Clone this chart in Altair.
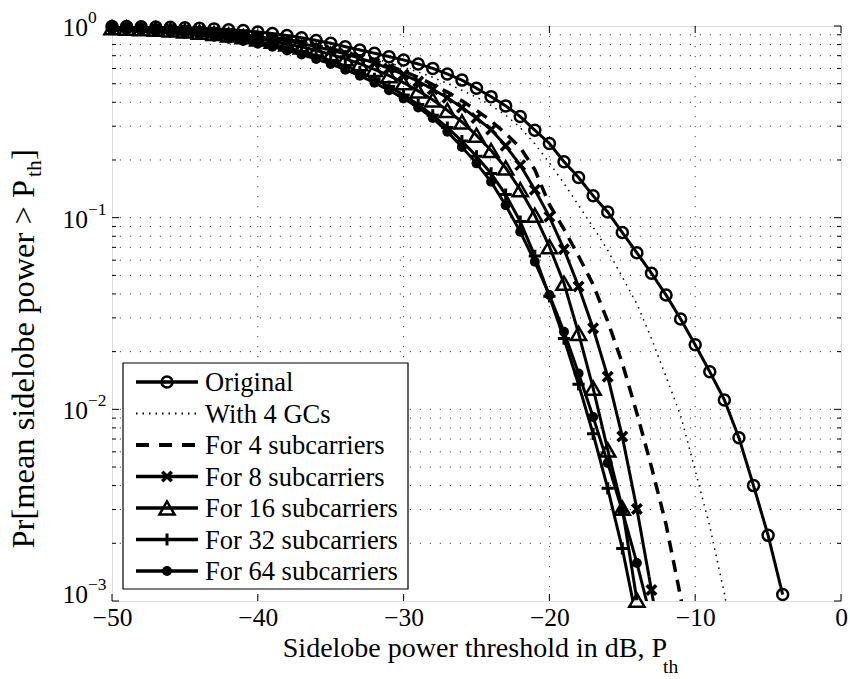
import altair as alt
import pandas as pd

# ---------------- data ----------------
x_start = -50
original = [0.995, 0.993, 0.991, 0.989, 0.984, 0.979, 0.973, 0.966, 0.957, 0.946,
            0.931, 0.914, 0.893, 0.869, 0.841, 0.813, 0.780, 0.750, 0.721, 0.692,
            0.665, 0.634, 0.601, 0.562, 0.522, 0.473, 0.428, 0.383, 0.337, 0.286,
            0.244, 0.196, 0.162, 0.130, 0.107, 0.0836, 0.0656, 0.0513, 0.0395, 0.0296,
            0.0217, 0.0157, 0.0112, 0.0071, 0.0040, 0.0022, 0.00108]
gc4 = [0.993, 0.991, 0.986, 0.982, 0.975, 0.968, 0.959, 0.948, 0.935, 0.920,
       0.902, 0.881, 0.857, 0.830, 0.802, 0.773, 0.741, 0.710, 0.676, 0.643,
       0.610, 0.575, 0.540, 0.501, 0.462, 0.425, 0.385, 0.343, 0.295, 0.243,
       0.193, 0.151, 0.116, 0.0891, 0.0676, 0.0490, 0.0355, 0.0234, 0.0148, 0.0093,
       0.0048, 0.00245, 0.0011, 0.0004]
sub4 = [0.991, 0.989, 0.984, 0.979, 0.973, 0.964, 0.955, 0.942, 0.929, 0.912,
        0.893, 0.873, 0.849, 0.822, 0.792, 0.762, 0.730, 0.695, 0.659, 0.621,
        0.581, 0.540, 0.495, 0.452, 0.407, 0.363, 0.320, 0.275, 0.232, 0.178,
        0.117, 0.0871, 0.0631, 0.0447, 0.0288, 0.0174, 0.00955, 0.00501, 0.00251, 0.00105,
        0.0004]
sub8 = [0.986, 0.982, 0.977, 0.971, 0.964, 0.955, 0.944, 0.931, 0.916, 0.900,
        0.881, 0.859, 0.836, 0.809, 0.780, 0.748, 0.715, 0.679, 0.641, 0.601,
        0.558, 0.514, 0.468, 0.422, 0.376, 0.331, 0.288, 0.237, 0.188, 0.140,
        0.101, 0.0684, 0.0437, 0.0265, 0.0148, 0.00721, 0.00302, 0.00114, 0.0004]
sub16 = [0.979, 0.975, 0.968, 0.962, 0.953, 0.942, 0.929, 0.914, 0.897, 0.879,
         0.857, 0.834, 0.807, 0.778, 0.746, 0.711, 0.675, 0.635, 0.594, 0.551,
         0.506, 0.459, 0.412, 0.363, 0.316, 0.269, 0.224, 0.182, 0.140, 0.103,
         0.0706, 0.0455, 0.0249, 0.0129, 0.00614, 0.00305, 0.00101]
sub32 = [0.973, 0.966, 0.959, 0.951, 0.940, 0.927, 0.912, 0.895, 0.875, 0.853,
         0.828, 0.800, 0.769, 0.736, 0.700, 0.661, 0.619, 0.575, 0.530, 0.483,
         0.437, 0.389, 0.342, 0.295, 0.251, 0.209, 0.170, 0.132, 0.0955, 0.0631,
         0.0389, 0.0234, 0.0135, 0.00745, 0.00387, 0.00188, 0.00079]
sub64 = [0.959, 0.953, 0.944, 0.935, 0.925, 0.912, 0.897, 0.879, 0.859, 0.836,
         0.809, 0.780, 0.746, 0.711, 0.673, 0.634, 0.592, 0.550, 0.506, 0.462,
         0.419, 0.376, 0.331, 0.281, 0.234, 0.192, 0.154, 0.116, 0.0845, 0.0589,
         0.0395, 0.0254, 0.0154, 0.00912, 0.00525, 0.00295, 0.00158, 0.00079]

series_names = ["Original", "With 4 GCs", "For 4 subcarriers", "For 8 subcarriers",
                "For 16 subcarriers", "For 32 subcarriers", "For 64 subcarriers"]
series_values = [original, gc4, sub4, sub8, sub16, sub32, sub64]

x_ticks = [-50, -40, -30, -20, -10, 0]
y_decades = [1.0, 0.1, 0.01, 0.001]
y_exponents = ["0", "\u22121", "\u22122", "\u22123"]
y_minor = [m * d for d in [0.001, 0.01, 0.1] for m in range(2, 10)]
x_title = "Sidelobe power threshold in dB, P"
y_title = "Pr[mean sidelobe power > P"
sub_text = "th"

# ---------------- layout ----------------
W, H = 729, 575
FONT = "Liberation Serif"
xs = alt.Scale(domain=[-50, 0], nice=False, zero=False)
ys = alt.Scale(type="log", domain=[0.001, 1], nice=False)
X_AXIS = alt.Axis(values=x_ticks, title=None, grid=False, ticks=False, domain=False,
                  labelFont=FONT, labelFontSize=25.5, labelColor="black", labelPadding=4,
                  format="d", labelFlush=False)


def X(field):
    return alt.X(field, scale=xs, axis=X_AXIS)


def Y(field):
    return alt.Y(field, scale=ys, axis=None)


styles = [
    dict(dash=[1, 0], width=3, shape="circle", filled=False, size=121, sw=2.5),
    dict(dash=[1.5, 5], width=1.5, shape=None),
    dict(dash=[12, 8], width=3.5, shape=None),
    dict(dash=[1, 0], width=3, shape="M-1,-1L1,1M1,-1L-1,1", filled=False, size=90, sw=3.5),
    dict(dash=[1, 0], width=3, shape="triangle-up", filled=False, size=230, sw=2.5),
    dict(dash=[1, 0], width=3, shape="M-1,0L1,0M0,-1L0,1", filled=False, size=150, sw=3),
    dict(dash=[1, 0], width=3, shape="circle", filled=True, size=100, sw=1),
]

rows = []
for name, vals in zip(series_names, series_values):
    for i, v in enumerate(vals):
        rows.append({"series": name, "x": x_start + i, "p": v})
df = pd.DataFrame(rows)

layers = []

# grid
xgrid = pd.DataFrame({"v": x_ticks[1:-1]})
ygrid = pd.DataFrame({"v": y_minor + y_decades[1:-1]})
grid_style = dict(color="#333333", strokeWidth=0.9, strokeDash=[1.2, 8.8])
layers.append(alt.Chart(xgrid).mark_rule(**grid_style).encode(x=X("v:Q")))
layers.append(alt.Chart(ygrid).mark_rule(**grid_style).encode(y=Y("v:Q")))

# inward ticks
tk = dict(color="black", strokeWidth=1)
xt = pd.DataFrame({"v": x_ticks})
layers.append(alt.Chart(xt).mark_rule(**tk).encode(
    x=X("v:Q"), y=alt.value(H), y2=alt.value(H - 7)))
layers.append(alt.Chart(xt).mark_rule(**tk).encode(
    x=X("v:Q"), y=alt.value(0), y2=alt.value(7)))
ymaj = pd.DataFrame({"v": y_decades})
ymin = pd.DataFrame({"v": y_minor})
for dfv, ln in [(ymaj, 7), (ymin, 4)]:
    layers.append(alt.Chart(dfv).mark_rule(**tk).encode(
        y=Y("v:Q"), x=alt.value(0), x2=alt.value(ln)))
    layers.append(alt.Chart(dfv).mark_rule(**tk).encode(
        y=Y("v:Q"), x=alt.value(W), x2=alt.value(W - ln)))

# series
for name, st in zip(series_names, styles):
    d = df[df.series == name]
    layers.append(alt.Chart(d).mark_line(color="black", strokeWidth=st["width"],
                                         strokeDash=st["dash"], clip=True).encode(
        x=X("x:Q"), y=Y("p:Q"), order="x:Q"))
    if st["shape"]:
        layers.append(alt.Chart(d).transform_filter(alt.datum.p >= 0.001).mark_point(
            shape=st["shape"], filled=st["filled"], size=st["size"], strokeWidth=st["sw"],
            color="black", opacity=1, clip=False).encode(x=X("x:Q"), y=Y("p:Q")))

# y tick labels (10^k)
ylab = pd.DataFrame({"v": y_decades, "base": ["10"] * 4, "e": y_exponents})
for sel, dy in [(ylab.iloc[:3], 0), (ylab.iloc[3:], -8)]:
    layers.append(alt.Chart(sel).mark_text(align="right", baseline="middle", font=FONT,
                                           fontSize=25.5, color="black", dy=dy + 2).encode(
        y=Y("v:Q"), x=alt.value(-24), text="base:N"))
    layers.append(alt.Chart(sel).mark_text(align="left", baseline="middle", font=FONT,
                                           fontSize=17.5, color="black", dy=dy - 8).encode(
        y=Y("v:Q"), x=alt.value(-24), text="e:N"))

# axis titles
one = pd.DataFrame({"t": [x_title], "s": [sub_text], "y": [y_title], "b": ["]"]})
layers.append(alt.Chart(one).mark_text(align="right", baseline="alphabetic", font=FONT,
                                       fontSize=28, color="black").encode(
    x=alt.value(555), y=alt.value(631), text="t:N"))
layers.append(alt.Chart(one).mark_text(align="left", baseline="alphabetic", font=FONT,
                                       fontSize=19.5, color="black").encode(
    x=alt.value(551), y=alt.value(647), text="s:N"))
layers.append(alt.Chart(one).mark_text(align="right", baseline="alphabetic", font=FONT,
                                       fontSize=32.5, color="black", angle=270).encode(
    x=alt.value(-78), y=alt.value(154), text="y:N"))
layers.append(alt.Chart(one).mark_text(align="left", baseline="alphabetic", font=FONT,
                                       fontSize=21.5, color="black", angle=270).encode(
    x=alt.value(-71), y=alt.value(151), text="s:N"))
layers.append(alt.Chart(one).mark_text(align="left", baseline="alphabetic", font=FONT,
                                       fontSize=32.5, color="black", angle=270).encode(
    x=alt.value(-78), y=alt.value(134), text="b:N"))

# legend
LX0, LX1, LY0, LY1 = 11, 296, 337, 563
layers.append(alt.Chart(one).mark_rect(fill="white", stroke="black", strokeWidth=1.2).encode(
    x=alt.value(LX0), x2=alt.value(LX1), y=alt.value(LY0), y2=alt.value(LY1)))
for i, (name, st) in enumerate(zip(series_names, styles)):
    ry = 356 + i * 31.5
    lab = pd.DataFrame({"t": [name]})
    dash = st["dash"] if st["dash"] != [12, 8] else [13, 10]
    layers.append(alt.Chart(lab).mark_rule(color="black", strokeWidth=st["width"] + 0.5,
                                           strokeDash=dash).encode(
        x=alt.value(24), x2=alt.value(86), y=alt.value(ry)))
    if st["shape"]:
        layers.append(alt.Chart(lab).mark_point(shape=st["shape"], filled=st["filled"],
                                                size=st["size"], strokeWidth=st["sw"],
                                                color="black", opacity=1).encode(
            x=alt.value(55), y=alt.value(ry)))
    layers.append(alt.Chart(lab).mark_text(align="left", baseline="middle", font=FONT,
                                           fontSize=26.5, color="black", dy=1).encode(
        x=alt.value(93), y=alt.value(ry), text="t:N"))

chart = alt.layer(*layers).properties(
    width=W, height=H,
    autosize=alt.AutoSizeParams(type="none"),
    padding={"left": 112, "top": 26, "right": 9, "bottom": 78},
).configure_view(stroke="black", strokeWidth=1.2).configure(background="white")

chart.save("out.html", embed_options={"renderer": "svg", "actions": False})
